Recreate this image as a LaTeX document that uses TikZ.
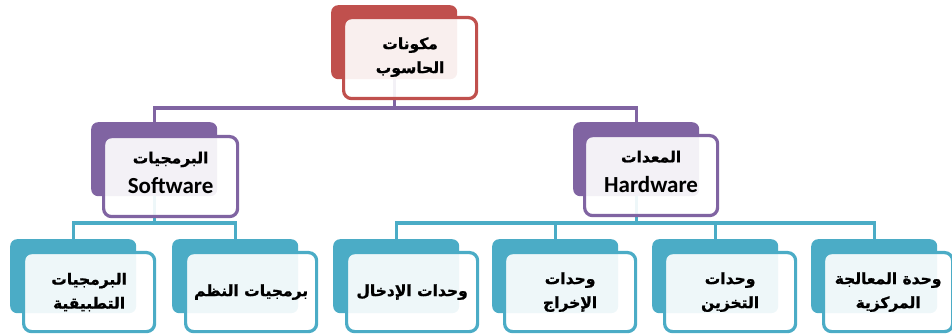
\documentclass[tikz,border=0pt]{standalone}
\usepackage{fontspec}
\setmainfont{Carlito}
\newfontfamily\arabicfont[Script=Arabic, BoldFeatures={FakeBold=1.2}]{DejaVu Sans}
\TeXXeTstate=1
\usetikzlibrary{calc}
\definecolor{cRed}{HTML}{C0504D}
\definecolor{cPur}{HTML}{8064A2}
\definecolor{cTeal}{HTML}{4BACC6}
\tikzset{
  backbox/.style={fill=#1, rounded corners=7pt, minimum width=126pt, minimum height=74pt, anchor=north west, inner sep=0pt},
  frontbox/.style={draw=#1, line width=3.2pt, fill=white, fill opacity=0.91, text opacity=1, rounded corners=8pt, minimum width=131pt, minimum height=79pt, anchor=north west, inner sep=0pt},
  conn/.style={draw=#1, line width=3.2pt},
  lbl/.style={align=center, text=black, font=\arabicfont\bfseries\fontsize{15.5}{24}\selectfont},
}
\newcommand{\ar}[1]{\beginR #1\endR}
\newcommand{\lat}[1]{{\normalfont\bfseries\fontsize{23}{28}\selectfont #1}}
\begin{document}
\begin{tikzpicture}[x=1pt,y={(0,-1pt)}]
\useasboundingbox (0,0) rectangle (952,336);
% back boxes
\node[backbox=cRed] (topB) at (331,5) {};
\node[backbox=cPur] (swB) at (91,122) {};
\node[backbox=cPur] (hwB) at (573,122) {};
\node[backbox=cTeal] (b1B) at (10,239) {};
\node[backbox=cTeal] (b2B) at (172,239) {};
\node[backbox=cTeal] (b3B) at (333,239) {};
\node[backbox=cTeal] (b4B) at (492,239) {};
\node[backbox=cTeal] (b5B) at (652,239) {};
\node[backbox=cTeal] (b6B) at (811,239) {};
% connectors
\coordinate (j1) at (0,108);
\coordinate (j2) at (0,223);
\draw[conn=cPur] (topB.south) -- (topB.south |- j1) -| (swB.north);
\draw[conn=cPur] (topB.south |- j1) -| (hwB.north);
\draw[conn=cTeal] (swB.south) -- (swB.south |- j2) -| (b1B.north);
\draw[conn=cTeal] (swB.south |- j2) -| (b2B.north);
\draw[conn=cTeal] (hwB.south) -- (hwB.south |- j2) -| (b3B.north);
\draw[conn=cTeal] (hwB.south |- j2) -| (b6B.north);
\draw[conn=cTeal] (b4B.north |- j2) -- (b4B.north);
\draw[conn=cTeal] (b5B.north |- j2) -- (b5B.north);
% front boxes
\node[frontbox=cRed, minimum width=133pt, minimum height=81pt] (topF) at ($(topB.north west)+(11,11)$) {};
\node[frontbox=cPur, minimum width=134pt, minimum height=80pt] (swF) at ($(swB.north west)+(11,13)$) {};
\node[frontbox=cPur, minimum width=133pt, minimum height=80pt] (hwF) at ($(hwB.north west)+(10,12)$) {};
\node[frontbox=cTeal] (b1F) at ($(b1B.north west)+(12,12)$) {};
\node[frontbox=cTeal] (b2F) at ($(b2B.north west)+(12,12)$) {};
\node[frontbox=cTeal] (b3F) at ($(b3B.north west)+(12,12)$) {};
\node[frontbox=cTeal] (b4F) at ($(b4B.north west)+(11,12)$) {};
\node[frontbox=cTeal] (b5F) at ($(b5B.north west)+(11,12)$) {};
\node[frontbox=cTeal, minimum width=129pt] (b6F) at ($(b6B.north west)+(11,12)$) {};
% labels
\node[lbl] (topT) at ($(topF.center)+(0,-1)$) {\ar{مكونات}\\\ar{الحاسوب}};
\node[lbl] (swT) at ($(swF.center)+(0,-4)$) {\ar{البرمجيات}\\[6pt]\lat{Software}};
\node[lbl] (hwT) at ($(hwF.center)+(0,-4)$) {\ar{المعدات}\\[6pt]\lat{Hardware}};
\node[lbl] (b1T) at (b1F.center) {\ar{البرمجيات}\\\ar{التطبيقية}};
\node[lbl] (b2T) at (b2F.center) {\ar{برمجيات النظم}};
\node[lbl] (b3T) at (b3F.center) {\ar{وحدات الإدخال}};
\node[lbl] (b4T) at (b4F.center) {\ar{وحدات}\\\ar{الإخراج}};
\node[lbl] (b5T) at (b5F.center) {\ar{وحدات}\\\ar{التخزين}};
\node[lbl] (b6T) at (b6F.center) {\ar{وحدة المعالجة}\\\ar{المركزية}};
\end{tikzpicture}
\end{document}
